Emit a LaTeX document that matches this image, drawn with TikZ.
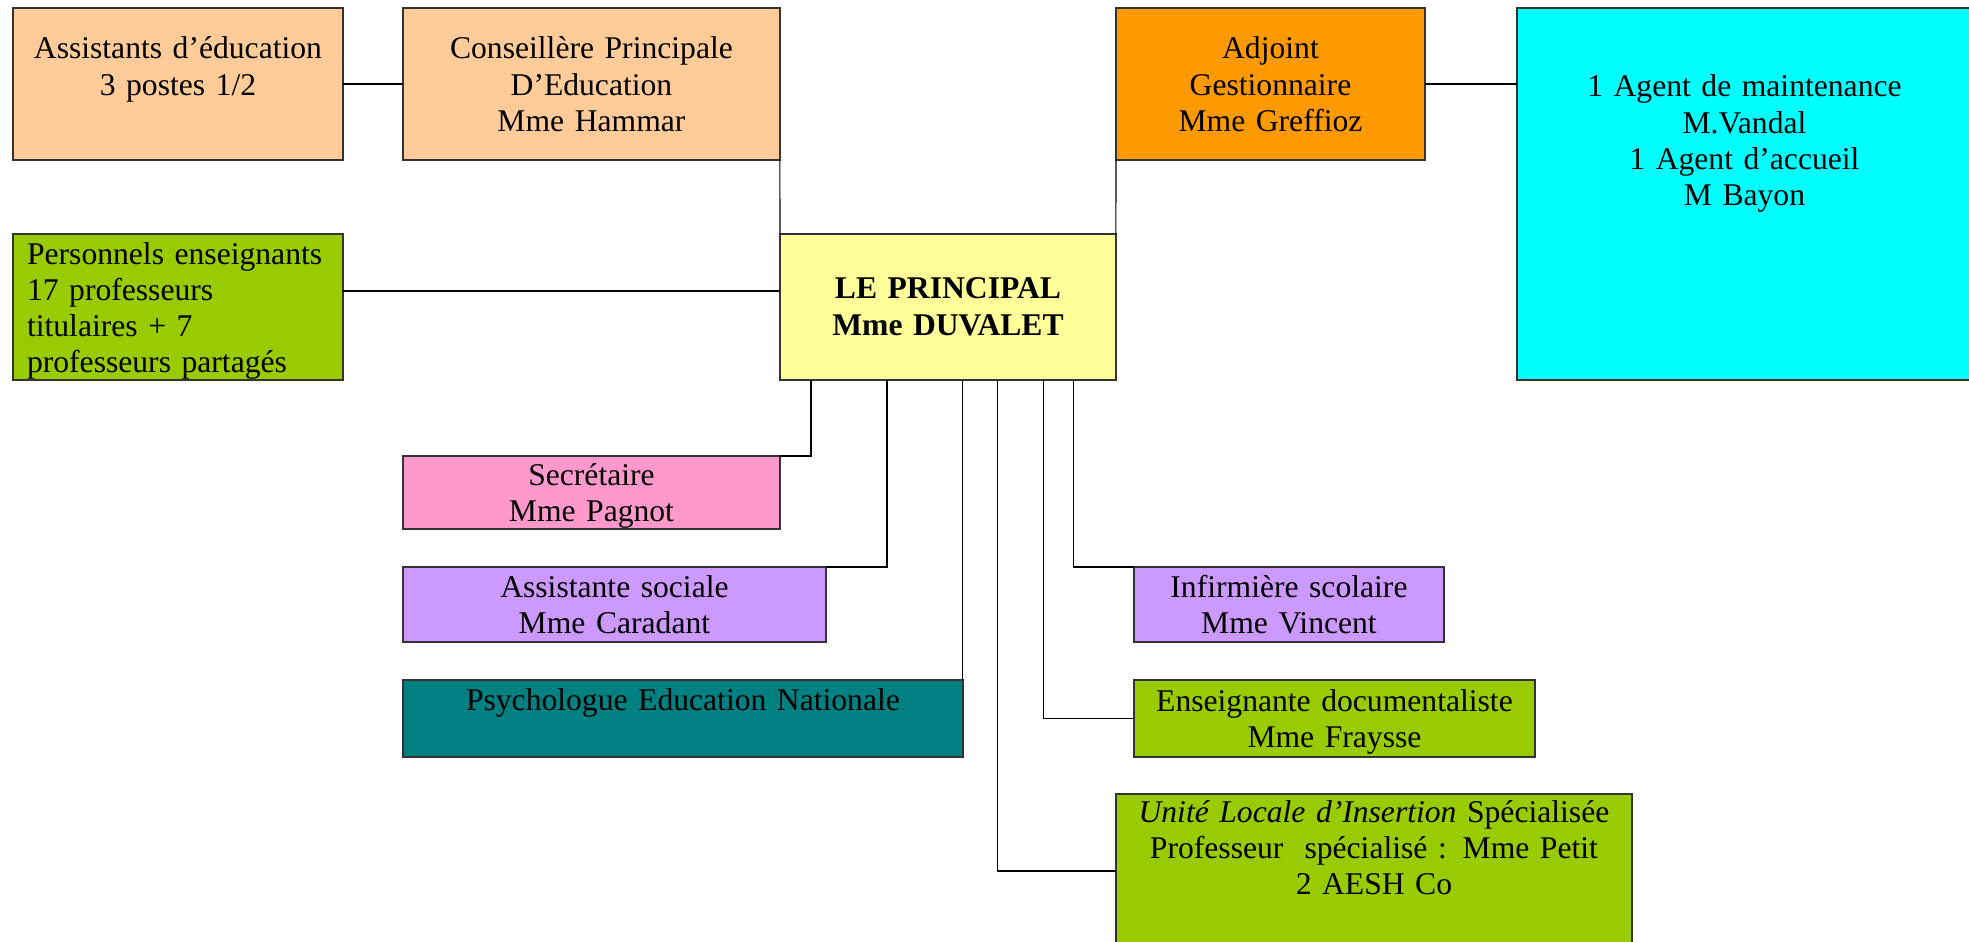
\documentclass[tikz,border=0pt]{standalone}
\usepackage{fontspec}
\setmainfont{Liberation Serif}
\usepackage{tikz}
\definecolor{peachColor}{RGB}{255,204,153}
\definecolor{orangeColor}{RGB}{255,153,0}
\definecolor{cyanColor}{RGB}{0,255,255}
\definecolor{greenColor}{RGB}{153,204,0}
\definecolor{yellowColor}{RGB}{255,255,153}
\definecolor{pinkColor}{RGB}{255,153,204}
\definecolor{lilacColor}{RGB}{204,153,255}
\definecolor{tealColor}{RGB}{0,128,128}
\definecolor{borderColor}{RGB}{51,51,51}
\newcommand{\pxToPt}{0.569055}
\newcommand{\boxPad}{8}
\tikzstyle{orgChart} = [x = 0.02cm, y = -0.02cm]
\tikzstyle{chartBoxStyle} = [draw=borderColor, line width=0.7pt, outer sep=0pt, anchor=north west, inner xsep=\boxPad pt, inner ysep=0pt, align=center, font=\fontsize{18}{20.5}\selectfont]
\tikzstyle{linkLine} = [color=black, line width=0.6pt]
\newcommand{\chartBox}[8]{
  \pgfmathsetmacro{\boxWidth}{(#5 - #3) * \pxToPt - 2 * \boxPad}
  \pgfmathsetmacro{\boxTop}{#7 * \pxToPt}
  \pgfmathsetmacro{\boxRest}{(#6 - #4 - #7) * \pxToPt}
  \node [chartBoxStyle, #1, text width=\boxWidth pt, text height=\boxTop pt, text depth=\boxRest pt] (#2) at (#3, #4) {#8};
}

\begin{document}
\begin{tikzpicture}[orgChart]
  \useasboundingbox (0,0) rectangle (1969,941);
  \chartBox{fill=peachColor}{assistants}{13}{8}{343}{160}{51}{Assistants d’éducation\\3 postes 1/2}
  \chartBox{fill=peachColor}{cpe}{403}{8}{780}{160}{51}{Conseillère Principale\\D’Education\\Mme Hammar}
  \chartBox{fill=orangeColor}{adjoint}{1116}{8}{1425}{160}{51}{Adjoint\\Gestionnaire\\Mme Greffioz}
  \chartBox{fill=cyanColor}{agents}{1517}{8}{1972}{380}{89}{1 Agent de maintenance\\M.Vandal\\1 Agent d’accueil\\M Bayon}
  \chartBox{fill=greenColor, align=left}{teachers}{13}{234}{343}{380}{30}{Personnels enseignants\\17 professeurs\\titulaires + 7\\professeurs partagés}
  \chartBox{fill=yellowColor, font=\fontsize{18}{20.5}\selectfont\bfseries}{principal}{780}{234}{1116}{380}{65}{LE PRINCIPAL\\Mme DUVALET}
  \chartBox{fill=pinkColor}{secretary}{403}{456}{780}{529}{29}{Secrétaire\\Mme Pagnot}
  \chartBox{fill=lilacColor}{social}{403}{567}{826}{642}{30}{Assistante sociale\\Mme Caradant}
  \chartBox{fill=tealColor}{psych}{403}{680}{963}{757}{30}{Psychologue Education Nationale}
  \chartBox{fill=lilacColor}{nurse}{1134}{567}{1444}{642}{30}{Infirmière scolaire\\Mme Vincent}
  \chartBox{fill=greenColor}{doc}{1134}{680}{1535}{757}{31}{Enseignante documentaliste\\Mme Fraysse}
  \chartBox{fill=greenColor}{ulis}{1116}{794}{1632}{948}{28}{\textit{Unité Locale d’Insertion} Spécialisée\\Professeur~ spécialisé : Mme Petit\\2 AESH Co}

  \draw [linkLine] (assistants.east) -- (cpe.west);
  \draw [linkLine] (cpe.south east) -- (principal.north west);
  \draw [linkLine] (adjoint.south west) -- (principal.north east);
  \draw [linkLine] (adjoint.east) -- (adjoint.east -| agents.west);
  \draw [linkLine] ([yshift=0.32cm]teachers.east) -- ([yshift=0.32cm]principal.west);
  \draw [linkLine] ([xshift=0.62cm]principal.south west) |- (secretary.north east);
  \draw [linkLine] ([xshift=2.14cm]principal.south west) |- (social.north east);
  \draw [linkLine] (principal.south west -| psych.north east) -- (psych.north east);
  \draw [linkLine] ([xshift=4.36cm]principal.south west) |- (ulis.west);
  \draw [linkLine] ([xshift=5.28cm]principal.south west) |- (doc.west);
  \draw [linkLine] ([xshift=5.88cm]principal.south west) |- (nurse.north west);
\end{tikzpicture}
\end{document}
